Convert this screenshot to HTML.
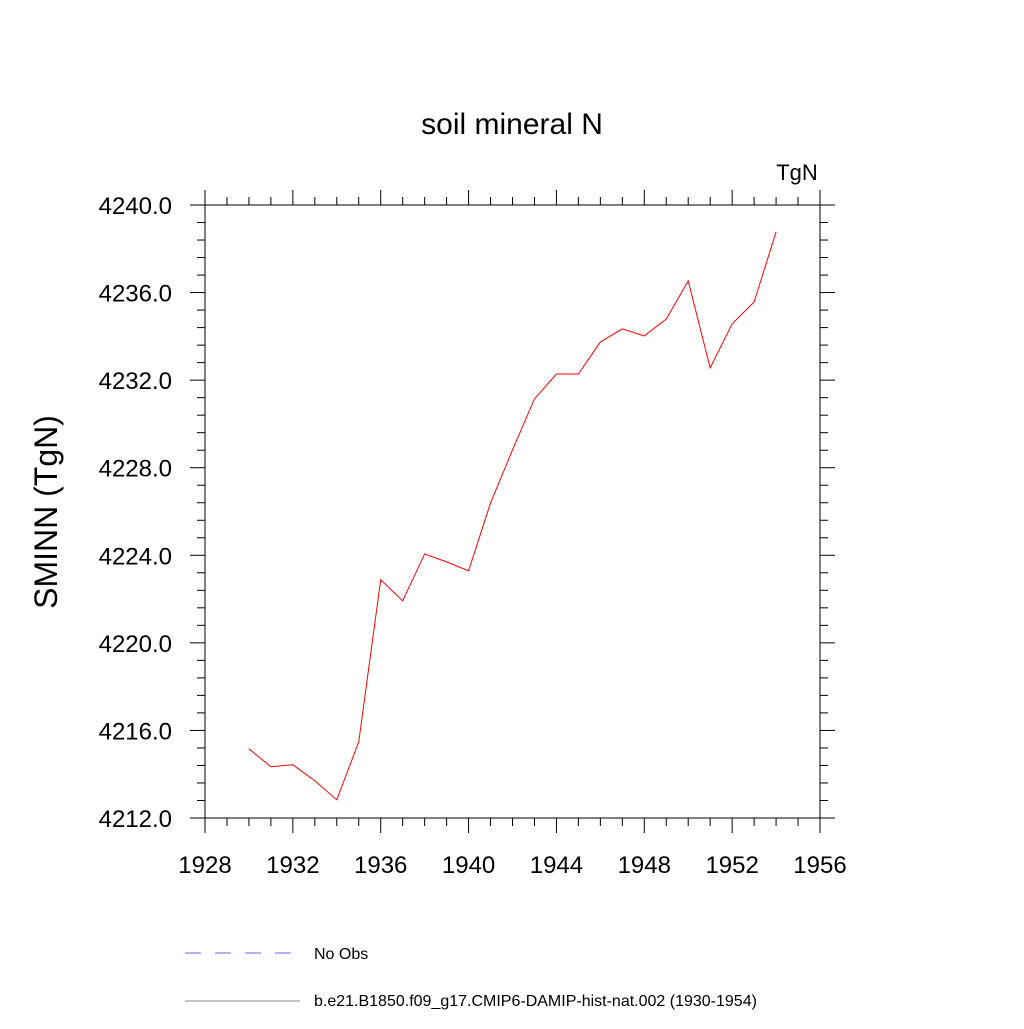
<!DOCTYPE html>
<html><head><meta charset="utf-8"><style>
html,body{margin:0;padding:0;background:#fff;}
svg text{font-family:"Liberation Sans",sans-serif;fill:#000;}
</style></head><body>
<svg width="1024" height="1024" viewBox="0 0 1024 1024" xmlns="http://www.w3.org/2000/svg">
<text x="512" y="134" font-size="30" text-anchor="middle">soil mineral N</text>
<text x="797" y="180" font-size="22" text-anchor="middle">TgN</text>
<text transform="translate(57,512) rotate(-90)" font-size="32" text-anchor="middle">SMINN  (TgN)</text>
<rect x="205" y="205" width="615" height="613" fill="none" stroke="#000" stroke-width="1"/>
<g id="ticks"></g>
<g id="labels"></g>
<polyline id="series" fill="none" stroke="#ff0000" stroke-width="1"/>
<line x1="185" y1="953" x2="292" y2="953" stroke="#6666ff" stroke-width="1" stroke-dasharray="16,14"/>
<text x="314" y="959" font-size="16">No Obs</text>
<line x1="185" y1="1001" x2="300" y2="1001" stroke="#888" stroke-width="1"/>
<text x="314" y="1006" font-size="16">b.e21.B1850.f09_g17.CMIP6-DAMIP-hist-nat.002 (1930-1954)</text>
</svg>
<script>
const years=[1930,1931,1932,1933,1934,1935,1936,1937,1938,1939,1940,1941,1942,1943,1944,1945,1946,1947,1948,1949,1950,1951,1952,1953,1954];
const values=[4215.16,4214.34,4214.43,4213.7,4212.83,4215.48,4222.88,4221.92,4224.06,4223.7,4223.29,4226.39,4228.81,4231.14,4232.28,4232.28,4233.74,4234.34,4234.02,4234.79,4236.53,4232.56,4234.57,4235.57,4238.77];
const xTicks=[1928,1932,1936,1940,1944,1948,1952,1956];
const yTicks=[4212,4216,4220,4224,4228,4232,4236,4240];
const yTickLabels=["4212.0","4216.0","4220.0","4224.0","4228.0","4232.0","4236.0","4240.0"];
const X0=205,X1=820,Y0=818,Y1=205,xmin=1928,xmax=1956,ymin=4212,ymax=4240;
function xs(v){return X0+(v-xmin)/(xmax-xmin)*(X1-X0);}
function ys(v){return Y0-(v-ymin)/(ymax-ymin)*(Y0-Y1);}
const NS="http://www.w3.org/2000/svg";
const tg=document.getElementById('ticks'),lg=document.getElementById('labels');
function ln(x1,y1,x2,y2){const l=document.createElementNS(NS,'line');l.setAttribute('x1',x1);l.setAttribute('y1',y1);l.setAttribute('x2',x2);l.setAttribute('y2',y2);l.setAttribute('stroke','#000');


tg.appendChild(l);}
for(let y=xmin;y<=xmax;y++){const x=xs(y);const L=(y-xmin)%4===0?15:8;ln(x,Y0,x,Y0+L);ln(x,Y1,x,Y1-L);}
for(let k=0;k<=35;k++){const v=ymin+k*0.8;const y=ys(v);const L=k%5===0?15:8;ln(X0,y,X0-L,y);ln(X1,y,X1+L,y);}
xTicks.forEach(t=>{const e=document.createElementNS(NS,'text');e.setAttribute('x',xs(t));e.setAttribute('y',873);e.setAttribute('font-size','24');e.setAttribute('text-anchor','middle');e.textContent=t;


lg.appendChild(e);});
yTicks.forEach((t,i)=>{const e=document.createElementNS(NS,'text');e.setAttribute('x',172);e.setAttribute('y',ys(t)+9);e.setAttribute('font-size','24');e.setAttribute('text-anchor','end');e.textContent=yTickLabels[i];


lg.appendChild(e);});
document.getElementById('series').setAttribute('points',years.map((y,i)=>xs(y)+','+ys(values[i])).join(' '));
</script>
</body></html>
